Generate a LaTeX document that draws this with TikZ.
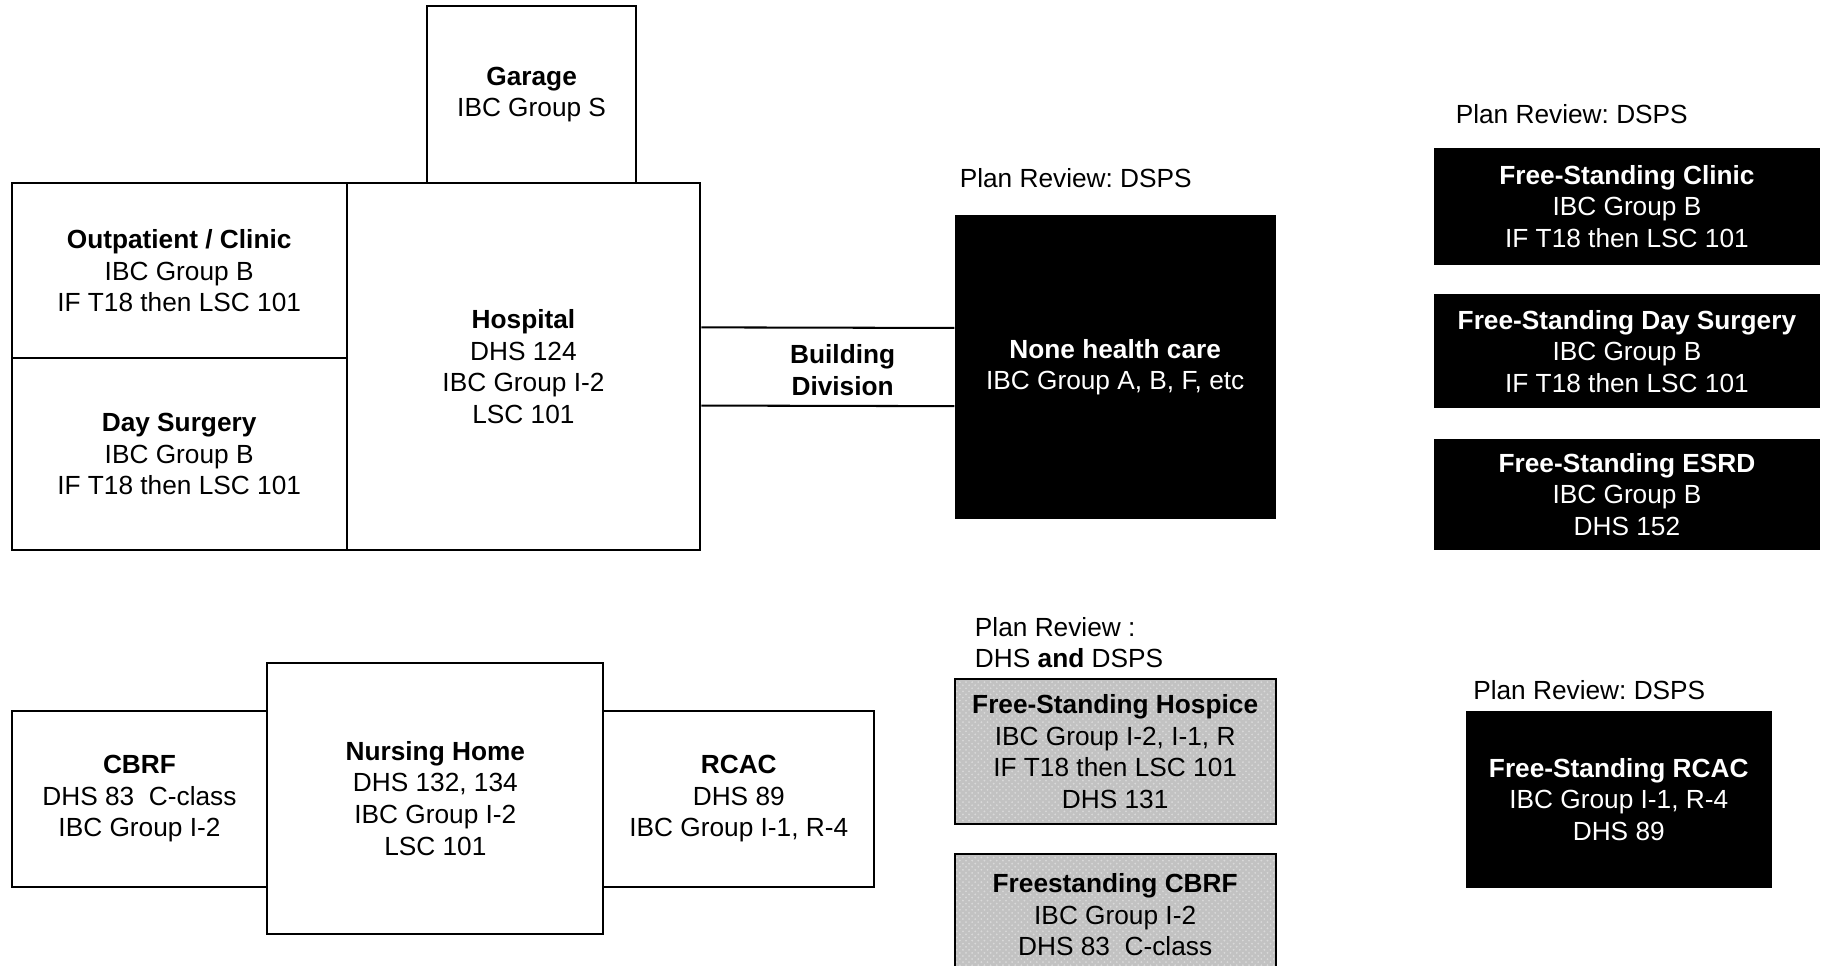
\documentclass[tikz,border=0pt]{standalone}
\usepackage{fontspec}
\setmainfont{Liberation Sans}
\frenchspacing
\usetikzlibrary{calc,positioning,patterns}
\tikzset{
  room/.style={rectangle, draw, line width=1pt, fill=white, align=center, inner sep=0pt,
    font=\fontsize{12.8}{15.4}\selectfont, execute at begin node={\rule{0pt}{13.3pt}}},
  sbox/.style={rectangle, fill=black, text=white, align=center, inner sep=0pt,
    font=\fontsize{12.8}{15.4}\selectfont, execute at begin node={\rule{0pt}{13.3pt}}},
  gbox/.style={rectangle, draw, line width=1pt, align=center, inner sep=0pt,
    preaction={fill=black!24}, pattern=crosshatch dots, pattern color=white!85!black,
    font=\fontsize{12.8}{15.4}\selectfont, execute at begin node={\rule{0pt}{13.3pt}}},
  rev/.style={anchor=west, align=left, inner sep=0pt, font=\fontsize{12.8}{15.4}\selectfont},
}

\begin{document}
\begin{tikzpicture}
  \useasboundingbox (0,0) rectangle (31.36,-16.54);

  %% ==================
  %% Hospital complex
  %% ==================
  \node[room, minimum width=3.58cm, minimum height=3.04cm] (garage) at (9.11,-1.62)
    {\textbf{Garage}\\IBC Group S};
  \node[room, minimum width=5.74cm, minimum height=3.0cm] (outpat) at (3.07,-4.64)
    {\textbf{Outpatient / Clinic}\\IBC Group B\\IF T18 then LSC 101};
  \node[room, minimum width=5.74cm, minimum height=3.28cm] (daysurg) at (3.07,-7.78)
    {\textbf{Day Surgery}\\IBC Group B\\IF T18 then LSC 101};
  \node[room, minimum width=6.06cm, minimum height=6.28cm] (hosp) at (8.97,-6.28)
    {\textbf{Hospital}\\DHS 124\\IBC Group I-2\\LSC 101};

  %% ==================
  %% Non health care
  %% ==================
  \node[sbox, minimum width=5.5cm, minimum height=5.22cm] (none) at (19.11,-6.29)
    {\textbf{None health care}\\IBC Group A, B, F, etc};
  \node[rev] (rev1) at (16.44,-3.06) {Plan Review: DSPS};

  % Building division link
  \draw[line width=1pt] ($(hosp.east)+(0,0.67)$) -- ($(none.west)+(0,0.67)$);
  \draw[line width=1pt] ($(hosp.east)+(0,-0.67)$) -- ($(none.west)+(0,-0.67)$);
  \node[align=center, font=\fontsize{12.8}{15.4}\selectfont\bfseries] (bdiv) at (14.44,-6.34)
    {Building\\Division};

  %% ==================
  %% Free-standing (DSPS)
  %% ==================
  \node[rev] (rev2) at (24.94,-1.96) {Plan Review: DSPS};
  \node[sbox, minimum width=6.6cm, minimum height=2.0cm] (fsclinic) at (27.88,-3.54)
    {\textbf{Free-Standing Clinic}\\IBC Group B\\IF T18 then LSC 101};
  \node[sbox, minimum width=6.6cm, minimum height=1.96cm] (fsday) at (27.88,-6.02)
    {\textbf{Free-Standing Day Surgery}\\IBC Group B\\IF T18 then LSC 101};
  \node[sbox, minimum width=6.6cm, minimum height=1.9cm] (fsesrd) at (27.88,-8.47)
    {\textbf{Free-Standing ESRD}\\IBC Group B\\DHS 152};

  %% ==================
  %% Long term care
  %% ==================
  \node[room, minimum width=4.38cm, minimum height=3.02cm] (cbrf) at (2.39,-13.69)
    {\textbf{CBRF}\\DHS 83\ \ C-class\\IBC Group I-2};
  \node[room, minimum width=4.64cm, minimum height=3.02cm] (rcac) at (12.66,-13.69)
    {\textbf{RCAC}\\DHS 89\\IBC Group I-1, R-4};
  \node[room, minimum width=5.76cm, minimum height=4.64cm] (nhome) at (7.46,-13.68)
    {\textbf{Nursing Home}\\DHS 132, 134\\IBC Group I-2\\LSC 101};

  %% ==================
  %% DHS and DSPS review
  %% ==================
  \node[rev] (rev3) at (16.70,-11.01) {Plan Review :\\DHS \textbf{and} DSPS};
  \node[gbox, minimum width=5.5cm, minimum height=2.48cm] (hospice) at (19.11,-12.88)
    {\textbf{Free-Standing Hospice}\\IBC Group I-2, I-1, R\\IF T18 then LSC 101\\DHS 131};
  \node[gbox, minimum width=5.5cm, minimum height=2.08cm] (fcbrf) at (19.11,-15.68)
    {\textbf{Freestanding CBRF}\\IBC Group I-2\\DHS 83\ \ C-class};

  %% ==================
  %% Free-standing RCAC
  %% ==================
  \node[rev] (rev4) at (25.24,-11.82) {Plan Review: DSPS};
  \node[sbox, minimum width=5.24cm, minimum height=3.04cm] (fsrcac) at (27.74,-13.70)
    {\textbf{Free-Standing RCAC}\\IBC Group I-1, R-4\\DHS 89};
\end{tikzpicture}
\end{document}
